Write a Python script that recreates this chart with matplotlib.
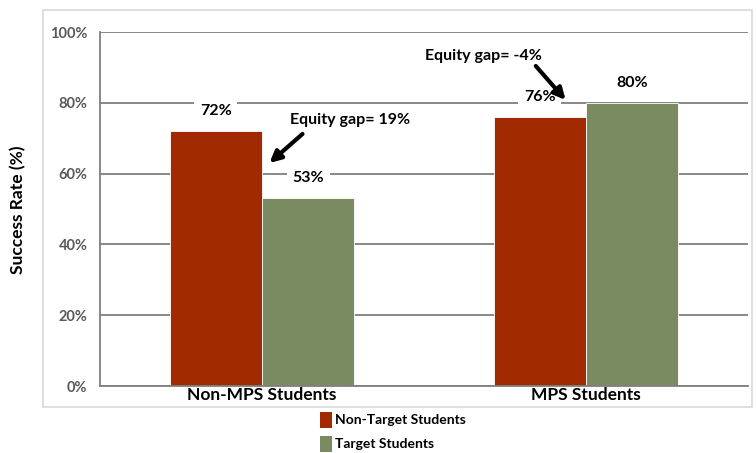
import matplotlib.pyplot as plt
from matplotlib.patches import Rectangle
import numpy as np

plt.rcParams['font.family'] = ['Lato', 'DejaVu Sans']

# data
groups = ['Non-MPS Students', 'MPS Students']
series = ['Non-Target Students', 'Target Students']
non_target = [72, 76]
target = [53, 80]
gap_labels = ['Equity gap= 19%', 'Equity gap= -4%']
colors = ['#A12A00', '#7B8B61']

fig = plt.figure(figsize=(7.56, 4.53), dpi=100)
ax = fig.add_axes([100 / 756, 1 - 386 / 453, 648 / 756, 354 / 453])

x = np.arange(len(groups))
w = 0.285
b1 = ax.bar(x - w / 2, non_target, w, color=colors[0], edgecolor='white', linewidth=0.6, zorder=2)
b2 = ax.bar(x + w / 2, target, w, color=colors[1], edgecolor='white', linewidth=0.6, zorder=2)

ax.set_xlim(-0.5, 1.5)
ax.set_ylim(0, 100)
yt = np.arange(0, 101, 20)
ax.set_yticks(yt)
ax.set_yticklabels([f'{v}%' for v in yt], fontsize=10.5, fontweight='bold', color='#595959')
ax.yaxis.grid(True, color='#7f7f7f', linewidth=1.3, zorder=0)
ax.set_axisbelow(True)
ax.tick_params(axis='y', length=0, pad=9)
ax.tick_params(axis='x', length=0, pad=1)
ax.set_xticks(x)
ax.set_xticklabels(groups, fontsize=12.5, fontweight='bold')
for s in ['top', 'right']:
    ax.spines[s].set_visible(False)
for s in ['left', 'bottom']:
    ax.spines[s].set_color('#7f7f7f')
    ax.spines[s].set_linewidth(1.3)

fig.text(18 / 756, 1 - 210 / 453, 'Success Rate (%)', rotation=90, ha='center', va='center',
         fontsize=12.5, fontweight='bold')

# value labels with white boxes over the gridlines
for bars, vals in [(b1, non_target), (b2, target)]:
    for rect, v in zip(bars, vals):
        ax.text(rect.get_x() + rect.get_width() / 2, v + 5.7, f'{v}%', ha='center', va='center',
                fontsize=11.5, fontweight='bold', zorder=4,
                bbox=dict(facecolor='white', edgecolor='none', pad=4))

# equity gap notes and arrows
ax.text(0.272, 75.1, gap_labels[0], ha='center', va='center', fontsize=11.5, fontweight='bold', zorder=5)
ax.annotate('', xy=(0.023, 63.0), xytext=(0.125, 71.2),
            arrowprops=dict(arrowstyle='-|>', color='black', lw=3, mutation_scale=17,
                            shrinkA=0, shrinkB=0), zorder=5)
ax.text(0.682, 93.2, gap_labels[1], ha='center', va='center', fontsize=11.5, fontweight='bold', zorder=5)
ax.annotate('', xy=(0.937, 80.8), xytext=(0.845, 90.4),
            arrowprops=dict(arrowstyle='-|>', color='black', lw=3, mutation_scale=17,
                            shrinkA=0, shrinkB=0), zorder=5)

# outer chart border
fig.patches.append(Rectangle((43 / 756, 1 - 407 / 453), 709 / 756, 397 / 453, transform=fig.transFigure,
                             fill=False, edgecolor='#d9d9d9', linewidth=1.2))

# legend below the chart
for i, (name, c) in enumerate(zip(series, colors)):
    yy = 1 - (420 + i * 24) / 453
    fig.patches.append(Rectangle((320 / 756, yy - 8 / 453), 12 / 756, 16 / 453, transform=fig.transFigure,
                                 facecolor=c, edgecolor='none'))
    fig.text(335 / 756, yy, name, ha='left', va='center', fontsize=10, fontweight='bold')

fig.savefig('out.png', dpi=100)
